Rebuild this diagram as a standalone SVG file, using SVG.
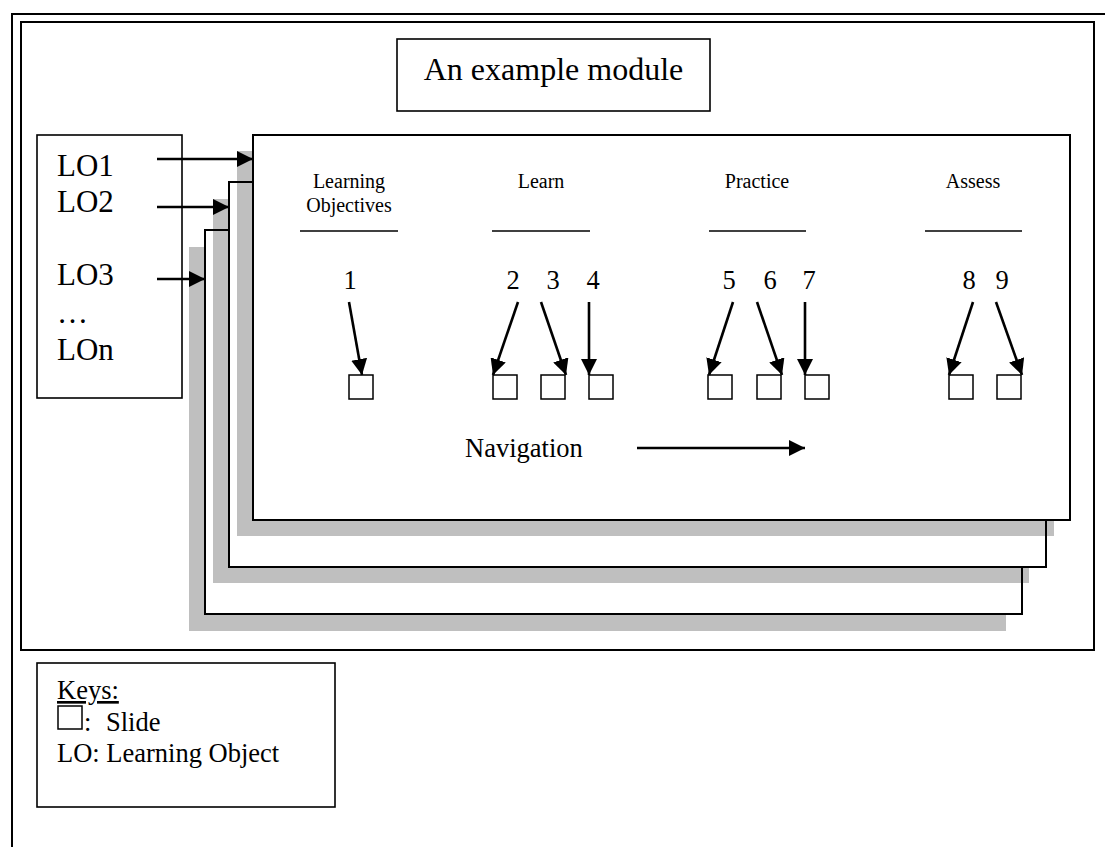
<svg xmlns="http://www.w3.org/2000/svg" width="1105" height="847" viewBox="0 0 1105 847">
<style>
text{font-family:"Liberation Serif","Times New Roman",serif;fill:#000}
.big{font-size:31px}
.title{font-size:32px}
.body{font-size:26.5px}
.hdr{font-size:20px}
.box{fill:#fff;stroke:#000;stroke-width:1.6}
.frame{fill:none;stroke:#000;stroke-width:2}
.shadow{fill:#000;fill-opacity:0.25}
.card{fill:#fff;stroke:#000;stroke-width:2}
.conn{stroke:#000;stroke-width:2.6;fill:none}
.ul{stroke:#000;stroke-width:1.5}
.slide{fill:#fff;stroke:#000;stroke-width:1.5}
</style>
<defs>
<marker id="ah" markerUnits="userSpaceOnUse" markerWidth="17" markerHeight="16" refX="16" refY="8" orient="auto">
<path d="M0,0 L16,8 L0,16 z" fill="#000"/>
</marker>
</defs>
<rect width="1105" height="847" fill="#fff"/>
<g id="outer-frame">
<path class="frame" d="M12,847 V14 H1105"/>
<rect class="frame" x="21" y="22" width="1073" height="628" stroke-width="1.6"/>
</g>
<g id="title">
<rect class="box" x="397" y="39" width="313" height="72"/>
<text class="title" x="553.5" y="80" text-anchor="middle">An example module</text>
</g>
<g id="cards">
<rect class="card" x="205" y="230" width="817" height="384"/>
<rect class="shadow" x="189" y="614" width="817" height="17"/>
<rect class="shadow" x="189" y="247" width="16" height="367"/>
<rect class="shadow" x="213" y="199" width="816" height="384"/>
<rect class="card" x="229" y="182" width="817" height="385"/>
<rect class="shadow" x="237" y="151" width="817" height="385"/>
<rect class="card" x="253" y="135" width="817" height="385"/>
</g>
<g id="lo-box">
<rect class="box" x="37" y="135" width="145" height="263"/>
<text class="big" x="57" y="176">LO1</text>
<text class="big" x="57" y="212">LO2</text>
<text class="big" x="57" y="285">LO3</text>
<text class="big" x="57" y="323">…</text>
<text class="big" x="57" y="360">LOn</text>
</g>
<g id="headers">
<text class="hdr" x="349" y="188" text-anchor="middle">Learning</text>
<text class="hdr" x="349" y="212" text-anchor="middle">Objectives</text>
<line class="ul" x1="300" y1="231" x2="398" y2="231"/>
<text class="hdr" x="541" y="188" text-anchor="middle">Learn</text>
<line class="ul" x1="492" y1="231" x2="590" y2="231"/>
<text class="hdr" x="757" y="188" text-anchor="middle">Practice</text>
<line class="ul" x1="709" y1="231" x2="806" y2="231"/>
<text class="hdr" x="973" y="188" text-anchor="middle">Assess</text>
<line class="ul" x1="925" y1="231" x2="1022" y2="231"/>
</g>
<g id="numbers">
<text class="body" x="350" y="289" text-anchor="middle">1</text>
<text class="body" x="513" y="289" text-anchor="middle">2</text>
<text class="body" x="553" y="289" text-anchor="middle">3</text>
<text class="body" x="593" y="289" text-anchor="middle">4</text>
<text class="body" x="729" y="289" text-anchor="middle">5</text>
<text class="body" x="770" y="289" text-anchor="middle">6</text>
<text class="body" x="809" y="289" text-anchor="middle">7</text>
<text class="body" x="969" y="289" text-anchor="middle">8</text>
<text class="body" x="1002" y="289" text-anchor="middle">9</text>
</g>
<g id="slides">
<rect class="slide" x="349" y="375" width="24" height="24"/>
<rect class="slide" x="493" y="375" width="24" height="24"/>
<rect class="slide" x="541" y="375" width="24" height="24"/>
<rect class="slide" x="589" y="375" width="24" height="24"/>
<rect class="slide" x="708" y="375" width="24" height="24"/>
<rect class="slide" x="757" y="375" width="24" height="24"/>
<rect class="slide" x="805" y="375" width="24" height="24"/>
<rect class="slide" x="949" y="375" width="24" height="24"/>
<rect class="slide" x="997" y="375" width="24" height="24"/>
</g>
<g id="connectors">
<line class="conn" x1="157" y1="159" x2="253" y2="159" marker-end="url(#ah)"/>
<line class="conn" x1="157" y1="207" x2="229" y2="207" marker-end="url(#ah)"/>
<line class="conn" x1="157" y1="279" x2="205" y2="279" marker-end="url(#ah)"/>
<line class="conn" x1="349" y1="302" x2="362" y2="375" marker-end="url(#ah)"/>
<line class="conn" x1="518" y1="302" x2="493" y2="375" marker-end="url(#ah)"/>
<line class="conn" x1="541" y1="302" x2="566" y2="375" marker-end="url(#ah)"/>
<line class="conn" x1="589" y1="302" x2="589" y2="375" marker-end="url(#ah)"/>
<line class="conn" x1="733" y1="302" x2="709" y2="375" marker-end="url(#ah)"/>
<line class="conn" x1="757" y1="302" x2="782" y2="375" marker-end="url(#ah)"/>
<line class="conn" x1="805" y1="302" x2="805" y2="375" marker-end="url(#ah)"/>
<line class="conn" x1="973" y1="302" x2="949" y2="375" marker-end="url(#ah)"/>
<line class="conn" x1="996" y1="302" x2="1022" y2="375" marker-end="url(#ah)"/>
<line class="conn" x1="637" y1="448" x2="805" y2="448" stroke-width="4" marker-end="url(#ah)"/>
</g>
<g id="navigation">
<text class="body" x="465" y="457">Navigation</text>
</g>
<g id="keys">
<rect class="box" x="37" y="663" width="298" height="144"/>
<text class="body" x="57" y="699" text-decoration="underline">Keys:</text>
<rect class="slide" x="58" y="706" width="24" height="23"/>
<text class="body" x="84" y="731">:</text>
<text class="body" x="106" y="731">Slide</text>
<text class="body" x="57" y="762">LO: Learning Object</text>
</g>
</svg>
